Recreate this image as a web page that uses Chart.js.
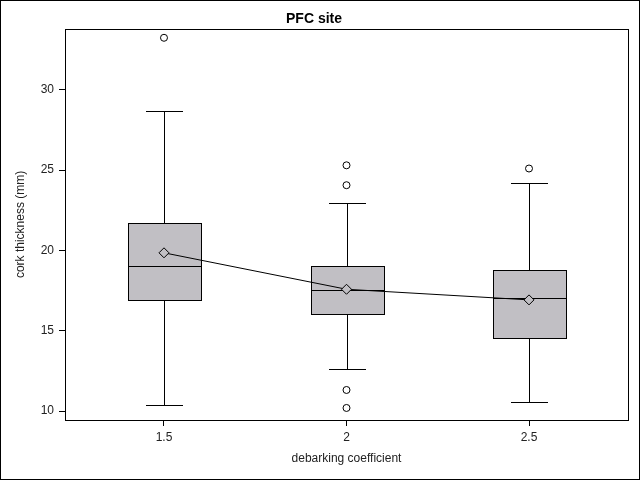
<!DOCTYPE html>
<html>
<head>
<meta charset="utf-8">
<script src="https://cdn.jsdelivr.net/npm/chart.js@4/dist/chart.umd.min.js"></script>
<style>
  html, body { margin: 0; padding: 0; background: #fff; }
</style>
</head>
<body>
<canvas id="chart" width="640" height="480"></canvas>
<script>
// debarking coefficient groups
const categories = [1.5, 2, 2.5];
const q1 = [16.94, 16.06, 14.56];
const medians = [19.0, 17.56, 17.06];
const q3 = [21.69, 19.0, 18.75];
const whiskerLow = [10.38, 12.63, 10.56];
const whiskerHigh = [28.69, 22.94, 24.19];
const means = [19.85, 17.58, 16.92];
const outlierX = [1.5, 2, 2, 2, 2, 2.5];
const outlierY = [33.24, 25.3, 24.06, 11.31, 10.19, 25.1];
const xTicks = [1.5, 2, 2.5];
const yTicks = [10, 15, 20, 25, 30];

const BOX_FILL = '#c1bfc4';
const BOX_HALF = 36.5;   // px
const CAP_HALF = 18.5;   // px
const FONT = '"Liberation Sans", Arial, sans-serif';

const snap = v => Math.round(v) + 0.5;

// draws boxes + whiskers through the chart's scales
const boxPlot = {
  id: 'boxPlot',
  beforeDatasetsDraw(chart) {
    const { ctx, scales: { x, y } } = chart;
    ctx.save();
    ctx.strokeStyle = '#000';
    ctx.lineWidth = 1;
    categories.forEach((c, i) => {
      const cx = snap(x.getPixelForValue(c));
      const yTop = snap(y.getPixelForValue(q3[i]));
      const yBot = snap(y.getPixelForValue(q1[i]));
      const yMed = snap(y.getPixelForValue(medians[i]));
      const yHi = snap(y.getPixelForValue(whiskerHigh[i]));
      const yLo = snap(y.getPixelForValue(whiskerLow[i]));
      const left = Math.round(cx - BOX_HALF), right = Math.round(cx + BOX_HALF);

      ctx.beginPath();
      ctx.moveTo(cx, yHi); ctx.lineTo(cx, yTop);
      ctx.moveTo(cx, yBot); ctx.lineTo(cx, yLo);
      ctx.moveTo(cx - CAP_HALF, yHi); ctx.lineTo(cx + CAP_HALF, yHi);
      ctx.moveTo(cx - CAP_HALF, yLo); ctx.lineTo(cx + CAP_HALF, yLo);
      ctx.stroke();

      ctx.fillStyle = BOX_FILL;
      ctx.fillRect(left, yTop, right - left, yBot - yTop);
      ctx.strokeRect(left + 0.5, yTop, right - left, yBot - yTop);

      ctx.beginPath();
      ctx.moveTo(left, yMed); ctx.lineTo(right + 1, yMed);
      ctx.stroke();
    });
    ctx.restore();
  },
  afterDraw(chart) {
    const { ctx, chartArea: a } = chart;
    ctx.save();
    ctx.strokeStyle = '#000';
    ctx.lineWidth = 1;
    ctx.strokeRect(snap(a.left), snap(a.top), Math.round(a.right - a.left), Math.round(a.bottom - a.top));
    ctx.strokeRect(0.5, 0.5, chart.width - 1, chart.height - 1);
    ctx.restore();
  }
};

Chart.defaults.font.family = FONT;
Chart.defaults.color = '#222';

new Chart(document.getElementById('chart'), {
  type: 'scatter',
  data: {
    datasets: [
      {
        label: 'Mean',
        data: categories.map((c, i) => ({ x: c, y: means[i] })),
        showLine: true,
        borderColor: '#000',
        borderWidth: 1,
        pointStyle: 'rectRot',
        pointRadius: 5,
        pointBorderWidth: 1,
        pointBorderColor: '#000',
        pointBackgroundColor: BOX_FILL,
      },
      {
        label: 'Outliers',
        data: outlierX.map((c, i) => ({ x: c, y: outlierY[i] })),
        pointStyle: 'circle',
        pointRadius: 3.5,
        pointBorderWidth: 1,
        pointBorderColor: '#000',
        pointBackgroundColor: '#fff',
      }
    ]
  },
  options: {
    responsive: false,
    devicePixelRatio: 1,
    animation: false,
    layout: { padding: { left: 0, right: 12, top: 0, bottom: 0 } },
    plugins: {
      legend: { display: false },
      tooltip: { enabled: false },
      title: {
        display: true,
        text: 'PFC site',
        color: '#000',
        font: { size: 14, weight: 'bold' },
        padding: { top: 11, bottom: 1 }
      }
    },
    scales: {
      x: {
        type: 'linear',
        min: 1.2288,
        max: 2.7712,
        afterBuildTicks: s => { s.ticks = xTicks.map(v => ({ value: v })); },
        afterFit: s => { s.height = 60; },
        ticks: { font: { size: 12 }, padding: 4, callback: v => String(v) },
        grid: { drawOnChartArea: false, drawTicks: true, tickLength: 6, color: '#000' },
        border: { display: false },
        title: { display: true, text: 'debarking coefficient', font: { size: 12 }, padding: { top: 0, bottom: 14 } }
      },
      y: {
        min: 9.44,
        max: 33.8,
        afterBuildTicks: s => { s.ticks = yTicks.map(v => ({ value: v })); },
        afterFit: s => { s.width = 65; },
        ticks: { font: { size: 12 }, padding: 5 },
        grid: { drawOnChartArea: false, drawTicks: true, tickLength: 6, color: '#000' },
        border: { display: false },
        title: { display: true, text: 'cork thickness (mm)', font: { size: 12 }, padding: { top: 13, bottom: 0 } }
      }
    }
  },
  plugins: [boxPlot]
});
</script>
</body>
</html>
